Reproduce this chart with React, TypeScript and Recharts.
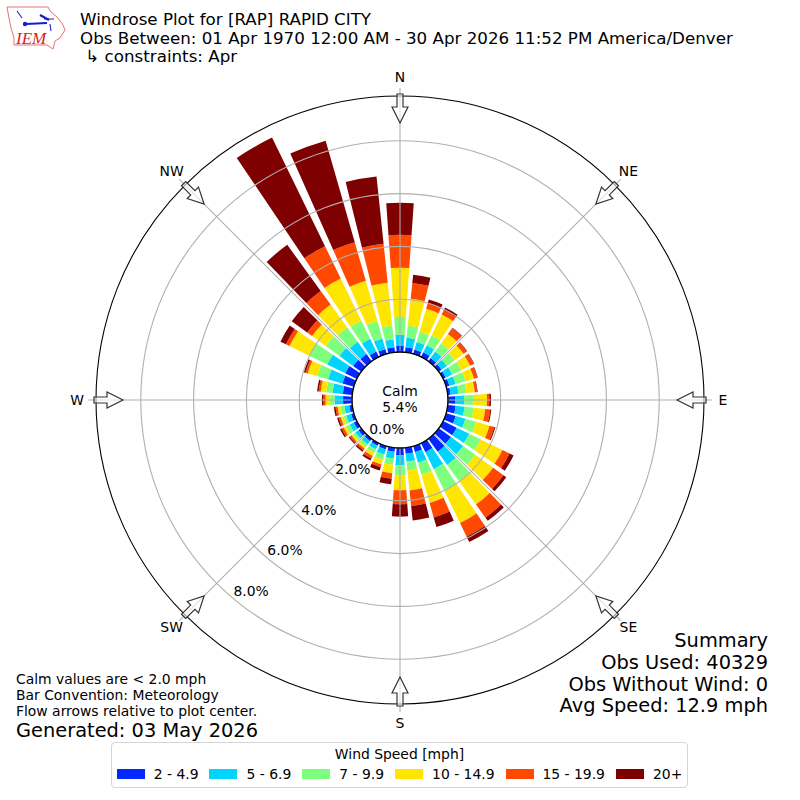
import { RadialBarChart, RadialBar, PolarAngleAxis, PolarRadiusAxis, PolarGrid, Legend } from "recharts"

const directions = [0, 10, 20, 30, 40, 50, 60, 70, 80, 90, 100, 110, 120, 130, 140, 150, 160, 170, 180, 190, 200, 210, 220, 230, 240, 250, 260, 270, 280, 290, 300, 310, 320, 330, 340, 350]
const compassLabels = ["N", "NE", "E", "SE", "S", "SW", "W", "NW"]
const compassBearings = [0, 45, 90, 135, 180, 225, 270, 315]
const compassAngles = [90, 45, 0, -45, -90, -135, -180, -225]
const radiusTicks = [0, 2, 4, 6, 8]

const s2 = [.23, .19, .17, .19, .15, .13, .11, .13, .11, .27, .30, .38, .57, .57, .61, .38, .23, .23, .27, .15, .13, .11, .11, .13, .13, .11, .11, .34, .36, .45, .49, .38, .34, .23, .19, .19]
const s5 = [.42, .36, .30, .30, .30, .25, .27, .25, .30, .34, .34, .38, .53, .57, .61, .72, .42, .30, .38, .27, .21, .15, .15, .15, .17, .19, .19, .32, .39, .57, .76, .64, .57, .53, .42, .30]
const s7 = [.68, .47, .40, .42, .38, .36, .38, .38, .30, .34, .34, .42, .49, .57, .76, .91, .49, .34, .38, .23, .19, .15, .11, .09, .15, .11, .15, .17, .24, .42, .76, .64, .68, .76, .68, .53]
const s10 = [1.86, 1.02, .91, .87, .44, .42, .38, .34, .32, .53, .45, .53, .91, .83, 1.10, 1.36, 1.10, .76, .57, .32, .19, .13, .09, .09, .11, .11, .11, .17, .21, .38, .83, .64, 1.06, 1.78, 1.59, 1.63]
const s15 = [1.25, .60, .23, .19, .27, .15, .15, .13, .09, .09, .19, .19, .30, .49, .61, .57, .57, .59, .53, .21, .11, .11, .08, .08, .09, .08, .08, .08, .08, .09, .15, .23, .64, 1.36, 1.52, 1.48]
const s20 = [1.21, .31, .13, .11, .02, .02, .02, .02, .02, .06, .04, .04, .17, .13, .15, .23, .38, .55, .47, .21, .13, .08, .06, .04, .06, .06, .06, .06, .06, .06, .23, .72, 2.16, 4.58, 4.00, 2.56]

const speedLabels = ["2 - 4.9", "5 - 6.9", "7 - 9.9", "10 - 14.9", "15 - 19.9", "20+"]
const speedColors = ["#0028ff", "#00d4ff", "#7dff7d", "#ffe600", "#ff4800", "#7f0000"]
const speedSeries = [s2, s5, s7, s10, s15, s20]

const data = directions.map((dir, i) => {
  const row: Record<string, number> = { dir }
  speedLabels.forEach((label, j) => { row[label] = speedSeries[j][i] })
  return row
})

const font = "'DejaVu Sans'"
const CX = 400
const CY = 400

function CompassRose() {
  return (
    <svg width={800} height={800} style={{ position: "absolute", left: 0, top: 0, pointerEvents: "none" }}>
      <circle cx={CX} cy={CY} r={304} fill="none" stroke="#000" strokeWidth={1.1} />
      <circle cx={CX} cy={CY} r={48} fill="none" stroke="#000" strokeWidth={1.4} />
      {compassBearings.map((rot, i) => {
        const rad = (rot * Math.PI) / 180
        return (
          <g key={rot}>
            <path
              transform={`rotate(${rot}, ${CX}, ${CY})`}
              d={`M${CX - 3} 94 L${CX + 3} 94 L${CX + 3} 107 L${CX + 8} 107 L${CX} 123 L${CX - 8} 107 L${CX - 3} 107 Z`}
              fill="#fff"
              fillOpacity={0.6}
              stroke="#333"
              strokeWidth={1.2}
            />
            <text x={CX + 323 * Math.sin(rad)} y={CY - 323 * Math.cos(rad)} dy={rot % 90 === 0 ? 5 : 4} textAnchor="middle" fontSize={13.9} fontFamily={font} fill="#000">
              {compassLabels[i]}
            </text>
          </g>
        )
      })}
    </svg>
  )
}

function PercentTick(props: any) {
  return (
    <text x={props.x} y={props.y} dy={-3} textAnchor="start" fontSize={13.9} fontFamily={font} fill="#000">
      {props.payload.value.toFixed(1)}%
    </text>
  )
}

function SpeedLegend() {
  return (
    <div style={{ width: 577, height: 46, boxSizing: "border-box", border: "1px solid #d5d5d5", borderRadius: 4, background: "#fff", fontFamily: font, fontSize: 13.9, color: "#000", textAlign: "center", paddingTop: 2 }}>
      <div style={{ height: 20, lineHeight: "18px" }}>Wind Speed [mph]</div>
      <div style={{ display: "flex", justifyContent: "center", gap: 11, lineHeight: "18px" }}>
        {speedLabels.map((label, i) => (
          <span key={label} style={{ display: "flex", alignItems: "center", gap: 9, whiteSpace: "nowrap" }}>
            <span style={{ display: "inline-block", width: 28, height: 10, background: speedColors[i] }} />
            {label}
          </span>
        ))}
      </div>
    </div>
  )
}

function Logo() {
  return (
    <svg width={70} height={52} style={{ position: "absolute", left: 0, top: 0 }}>
      <path d="M7 7 L48 7 L51 12 L57 17 L63 25 L65 30 L60 38 L55 41 L53 49 L47 45 L14 45 L14 38 L11 28 L9 18 Z" fill="#fff" stroke="#e87070" strokeWidth={1} />
      <path d="M26 24 L47 23 M40 15 L49 20" stroke="#1a1ad0" strokeWidth={2.2} fill="none" />
      <path d="M17 11 L22 18 M44 19 L54 19 M50 24 L51 31" stroke="#1a1ad0" strokeWidth={1.1} fill="none" />
      <circle cx={25} cy={24} r={2.2} fill="#1a1ad0" />
      <text x={16} y={44} fontFamily="'Liberation Serif'" fontStyle="italic" fontSize={17} fill="#d81e1e">IEM</text>
    </svg>
  )
}

const textLine = (text: string, left: number, top: number, size: number) => (
  <div style={{ position: "absolute", left, top, fontSize: size, lineHeight: `${size}px`, whiteSpace: "pre" }}>{text}</div>
)
const rightLine = (text: string, top: number) => (
  <div style={{ position: "absolute", right: 32, top, fontSize: 19.4, lineHeight: "20px", whiteSpace: "pre" }}>{text}</div>
)

export default function App() {
  return (
    <div style={{ position: "absolute", left: 0, top: 0, width: 800, height: 800, background: "#fff", fontFamily: font, color: "#000", overflow: "hidden" }}>
      <RadialBarChart
        width={800}
        height={800}
        cx={CX}
        cy={CY}
        innerRadius={48}
        outerRadius={312}
        startAngle={85}
        endAngle={-275}
        layout="centric"
        data={data}
        barSize={8}
        margin={{ top: 0, right: 0, bottom: 0, left: 0 }}
      >
        <PolarAngleAxis dataKey="dir" type="category" axisLine={false} tickLine={false} tick={false} />
        <PolarRadiusAxis type="number" domain={[0, 10]} ticks={radiusTicks} angle={-130} axisLine={false} tickLine={false} tick={<PercentTick />} zIndex={600} />
        {speedLabels.map((label, i) => (
          <RadialBar key={label} dataKey={label} stackId="wind" fill={speedColors[i]} isAnimationActive={false} />
        ))}
        <PolarGrid gridType="circle" polarAngles={compassAngles} outerRadius={304} stroke="#b0b0b0" strokeWidth={1.1} zIndex={500} />
        <Legend content={<SpeedLegend />} wrapperStyle={{ left: 111, top: 742, width: 577, bottom: "auto" }} />
      </RadialBarChart>

      <CompassRose />

      <Logo />
      {textLine("Windrose Plot for [RAP] RAPID CITY", 80, 11, 16.7)}
      {textLine("Obs Between: 01 Apr 1970 12:00 AM - 30 Apr 2026 11:52 PM America/Denver", 80, 30, 16.7)}
      {textLine(" ↳ constraints: Apr", 80, 48, 16.7)}

      <div style={{ position: "absolute", left: 352, width: 96, top: 383, textAlign: "center", fontSize: 13.9, lineHeight: "16px" }}>
        Calm<br />5.4%
      </div>

      {rightLine("Summary", 631)}
      {rightLine("Obs Used: 40329", 653)}
      {rightLine("Obs Without Wind: 0", 675)}
      {rightLine("Avg Speed: 12.9 mph", 696)}

      {textLine("Calm values are < 2.0 mph", 16, 673, 13.9)}
      {textLine("Bar Convention: Meteorology", 16, 689, 13.9)}
      {textLine("Flow arrows relative to plot center.", 16, 705, 13.9)}
      {textLine("Generated: 03 May 2026", 16, 721, 19.4)}
    </div>
  )
}
